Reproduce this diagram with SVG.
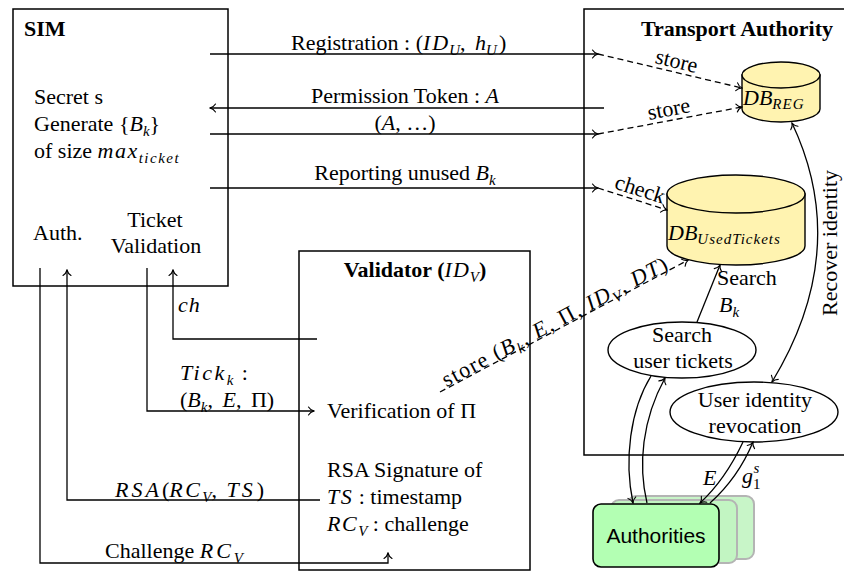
<svg xmlns="http://www.w3.org/2000/svg" width="844" height="572" viewBox="0 0 844 572" font-family="'Liberation Serif', 'DejaVu Serif', serif">
<defs>
<style>
.t{font-family:'Liberation Serif','DejaVu Serif',serif;font-size:22px;fill:#000}
.b{font-weight:bold}
.i{font-style:italic}
.n{font-weight:normal}
.s{font-size:15px}
.sans{font-family:'Liberation Sans',Arial,sans-serif;font-size:21px}
.box{fill:#fff;stroke:#000;stroke-width:1.5}
.db{fill:#fff3b0;stroke:#000;stroke-width:1.4}
.el{fill:#fff;stroke:#000;stroke-width:1.4}
.ln{fill:none;stroke:#000;stroke-width:1.3}
.ds{stroke-dasharray:6 4}
</style>
<marker id="ah" viewBox="-7 -5 8 10" refX="0" refY="0" markerWidth="8" markerHeight="10" orient="auto-start-reverse" markerUnits="userSpaceOnUse">
<path d="M-5.5,-4 C-4,-1.5 -1.5,-0.4 0,0 C-1.5,0.4 -4,1.5 -5.5,4" fill="none" stroke="#000" stroke-width="1.1" stroke-linecap="round"/>
</marker>
</defs>
<rect width="844" height="572" fill="#fff"/>

<g id="transport-authority">
<rect class="box" x="584" y="9" width="280" height="446"/>
<text class="t b" x="737" y="36" text-anchor="middle" font-size="23">Transport Authority</text>
</g>

<g id="sim">
<rect class="box" x="13" y="9" width="215" height="277"/>
<text class="t b" x="24" y="36">SIM</text>
<text class="t" x="34" y="104">Secret s</text>
<text class="t" x="34" y="131">Generate {<tspan class="i">B</tspan><tspan class="i s" dy="5">k</tspan><tspan dy="-5">}</tspan></text>
<text class="t" x="34" y="158">of size <tspan class="i" letter-spacing="1.5">max</tspan><tspan class="i s" dy="5" letter-spacing="1.5">ticket</tspan></text>
<text class="t" x="33" y="240">Auth.</text>
<text class="t" x="155" y="227" text-anchor="middle">Ticket</text>
<text class="t" x="156" y="253" text-anchor="middle">Validation</text>
</g>

<g id="validator">
<rect class="box" x="299" y="251" width="231" height="319"/>
<text class="t b" x="415" y="277" text-anchor="middle">Validator (<tspan class="i n" letter-spacing="1">ID</tspan><tspan class="i n s" dy="5">V</tspan><tspan dy="-5">)</tspan></text>
<text class="t" x="327" y="418">Verification of Π</text>
<text class="t" x="327" y="477">RSA Signature of</text>
<text class="t" x="327" y="504"><tspan class="i" letter-spacing="1.5">TS</tspan> : timestamp</text>
<text class="t" x="327" y="531"><tspan class="i" letter-spacing="1.5">RC</tspan><tspan class="i s" dy="5">V</tspan><tspan dy="-5"> : challenge</tspan></text>
</g>

<g id="db-reg">
<path class="db" d="M742 75 V109 A39 13 0 0 0 820 109 V75 Z"/>
<ellipse class="db" cx="781" cy="75" rx="39" ry="13"/>
<text class="t i" x="743" y="105" font-size="24"><tspan>DB</tspan><tspan class="s" font-size="17" dy="4" letter-spacing="1">REG</tspan></text>
</g>

<g id="db-usedtickets">
<path class="db" d="M667 194 V246 A69 19 0 0 0 805 246 V194 Z"/>
<ellipse class="db" cx="736" cy="194" rx="69" ry="19"/>
<text class="t i" x="668" y="240" font-size="24"><tspan>DB</tspan><tspan class="s" font-size="17" dy="4" letter-spacing="1">UsedTickets</tspan></text>
</g>

<g id="search-user-tickets">
<ellipse class="el" cx="682" cy="350" rx="74" ry="28"/>
<text class="t" x="682" y="342" text-anchor="middle">Search</text>
<text class="t" x="683" y="368" text-anchor="middle">user tickets</text>
</g>

<g id="user-identity-revocation">
<ellipse class="el" cx="754" cy="412" rx="84" ry="30"/>
<text class="t" x="755" y="407" text-anchor="middle">User identity</text>
<text class="t" x="755" y="433" text-anchor="middle">revocation</text>
</g>

<g id="authorities">
<rect x="628" y="496" width="126" height="63" rx="8" fill="#c8f5c8" stroke="#b4b4b4" stroke-width="2"/>
<rect x="611" y="500" width="126" height="63" rx="8" fill="#c2f5c2" stroke="#b4b4b4" stroke-width="2"/>
<rect x="593" y="504" width="126" height="63" rx="8" fill="#b3ffb3" stroke="#000" stroke-width="1.6"/>
<text class="sans" x="656" y="543" text-anchor="middle">Authorities</text>
</g>

<g id="connectors">
<path class="ln" d="M210 54 H598" marker-end="url(#ah)"/>
<path class="ln ds" d="M598 54 L742 88" marker-end="url(#ah)"/>
<text class="t" x="291" y="50">Registration : (<tspan class="i" letter-spacing="2">ID</tspan><tspan class="i s" dy="5" dx="-1">U</tspan><tspan dy="-5">, </tspan><tspan class="i" dx="4">h</tspan><tspan class="i s" dy="5">U</tspan><tspan dy="-5" dx="2">)</tspan></text>
<text class="t" transform="translate(675,68) rotate(13.3)" text-anchor="middle">store</text>

<path class="ln" d="M604 108 H210" marker-end="url(#ah)"/>
<text class="t" x="405" y="103" text-anchor="middle">Permission Token : <tspan class="i">A</tspan></text>

<path class="ln" d="M210 134 H598" marker-end="url(#ah)"/>
<path class="ln ds" d="M598 134 L742 107" marker-end="url(#ah)"/>
<text class="t" x="405" y="130" text-anchor="middle">(<tspan class="i">A</tspan>, …)</text>
<text class="t" transform="translate(670,116) rotate(-10.6)" text-anchor="middle">store</text>

<path class="ln" d="M210 188 H598" marker-end="url(#ah)"/>
<path class="ln ds" d="M598 188 L667 210" marker-end="url(#ah)"/>
<text class="t" x="405" y="180" text-anchor="middle">Reporting unused <tspan class="i">B</tspan><tspan class="i s" dy="5">k</tspan></text>
<text class="t" transform="translate(638,196) rotate(17.7)" text-anchor="middle">check</text>

<path class="ln" d="M317 339 H173 V270" marker-end="url(#ah)"/>
<text class="t i" x="178" y="312" letter-spacing="1">ch</text>

<path class="ln" d="M147 268 V411 H314" marker-end="url(#ah)"/>
<text class="t" x="180" y="380"><tspan class="i" letter-spacing="2.5">Tick</tspan><tspan class="i s" dy="5">k</tspan><tspan dy="-5" dx="3"> :</tspan></text>
<text class="t" x="180" y="407">(<tspan class="i">B</tspan><tspan class="i s" dy="5">k</tspan><tspan dy="-5">, </tspan><tspan class="i" dx="4">E</tspan>, <tspan dx="4">Π)</tspan></text>

<path class="ln" d="M320 500 H67 V270" marker-end="url(#ah)"/>
<text class="t" x="115" y="497"><tspan class="i" letter-spacing="3">RSA</tspan>(<tspan class="i" letter-spacing="2.5">RC</tspan><tspan class="i s" dy="5">V</tspan><tspan dy="-5">, </tspan><tspan class="i" letter-spacing="3" dx="4">TS</tspan><tspan dx="1">)</tspan></text>

<path class="ln" d="M40 268 V563 H388 V553" marker-end="url(#ah)"/>
<text class="t" x="105" y="558">Challenge <tspan class="i" letter-spacing="3">RC</tspan><tspan class="i s" dy="5">V</tspan></text>

<g transform="translate(440,392) rotate(-28)">
<path class="ln ds" d="M0 0 H281" marker-end="url(#ah)"/>
<text class="t" x="8" y="-1" textLength="252">store (<tspan class="i">B</tspan><tspan class="i s" dy="5">k</tspan><tspan dy="-5">, </tspan><tspan class="i">E</tspan>, Π, <tspan class="i">ID</tspan><tspan class="i s" dy="5">V</tspan><tspan dy="-5">, </tspan><tspan class="i">DT</tspan>)</text>
</g>

<path class="ln" d="M697 322 L720 265" marker-end="url(#ah)"/>
<text class="t" x="717" y="285">Search</text>
<text class="t i" x="719" y="312">B<tspan class="s" dy="5">k</tspan></text>

<path class="ln" d="M792 123 Q852 250 772 382" marker-start="url(#ah)" marker-end="url(#ah)"/>
<text class="t" transform="translate(837,243) rotate(-90)" text-anchor="middle">Recover identity</text>

<path class="ln" d="M651 376 C630 410 624 460 633 503" marker-end="url(#ah)"/>
<path class="ln" d="M647 503 C638 465 642 420 665 378" marker-end="url(#ah)"/>

<path class="ln" d="M743 442 Q725 480 700 503" marker-end="url(#ah)"/>
<path class="ln" d="M710 503 Q738 478 753 442" marker-end="url(#ah)"/>
<text class="t i" x="703" y="485">E</text>
<text class="t" x="742" y="483"><tspan class="i">g</tspan><tspan class="s" dy="6">1</tspan><tspan class="i s" dx="-7" dy="-16">s</tspan></text>
</g>
</svg>
